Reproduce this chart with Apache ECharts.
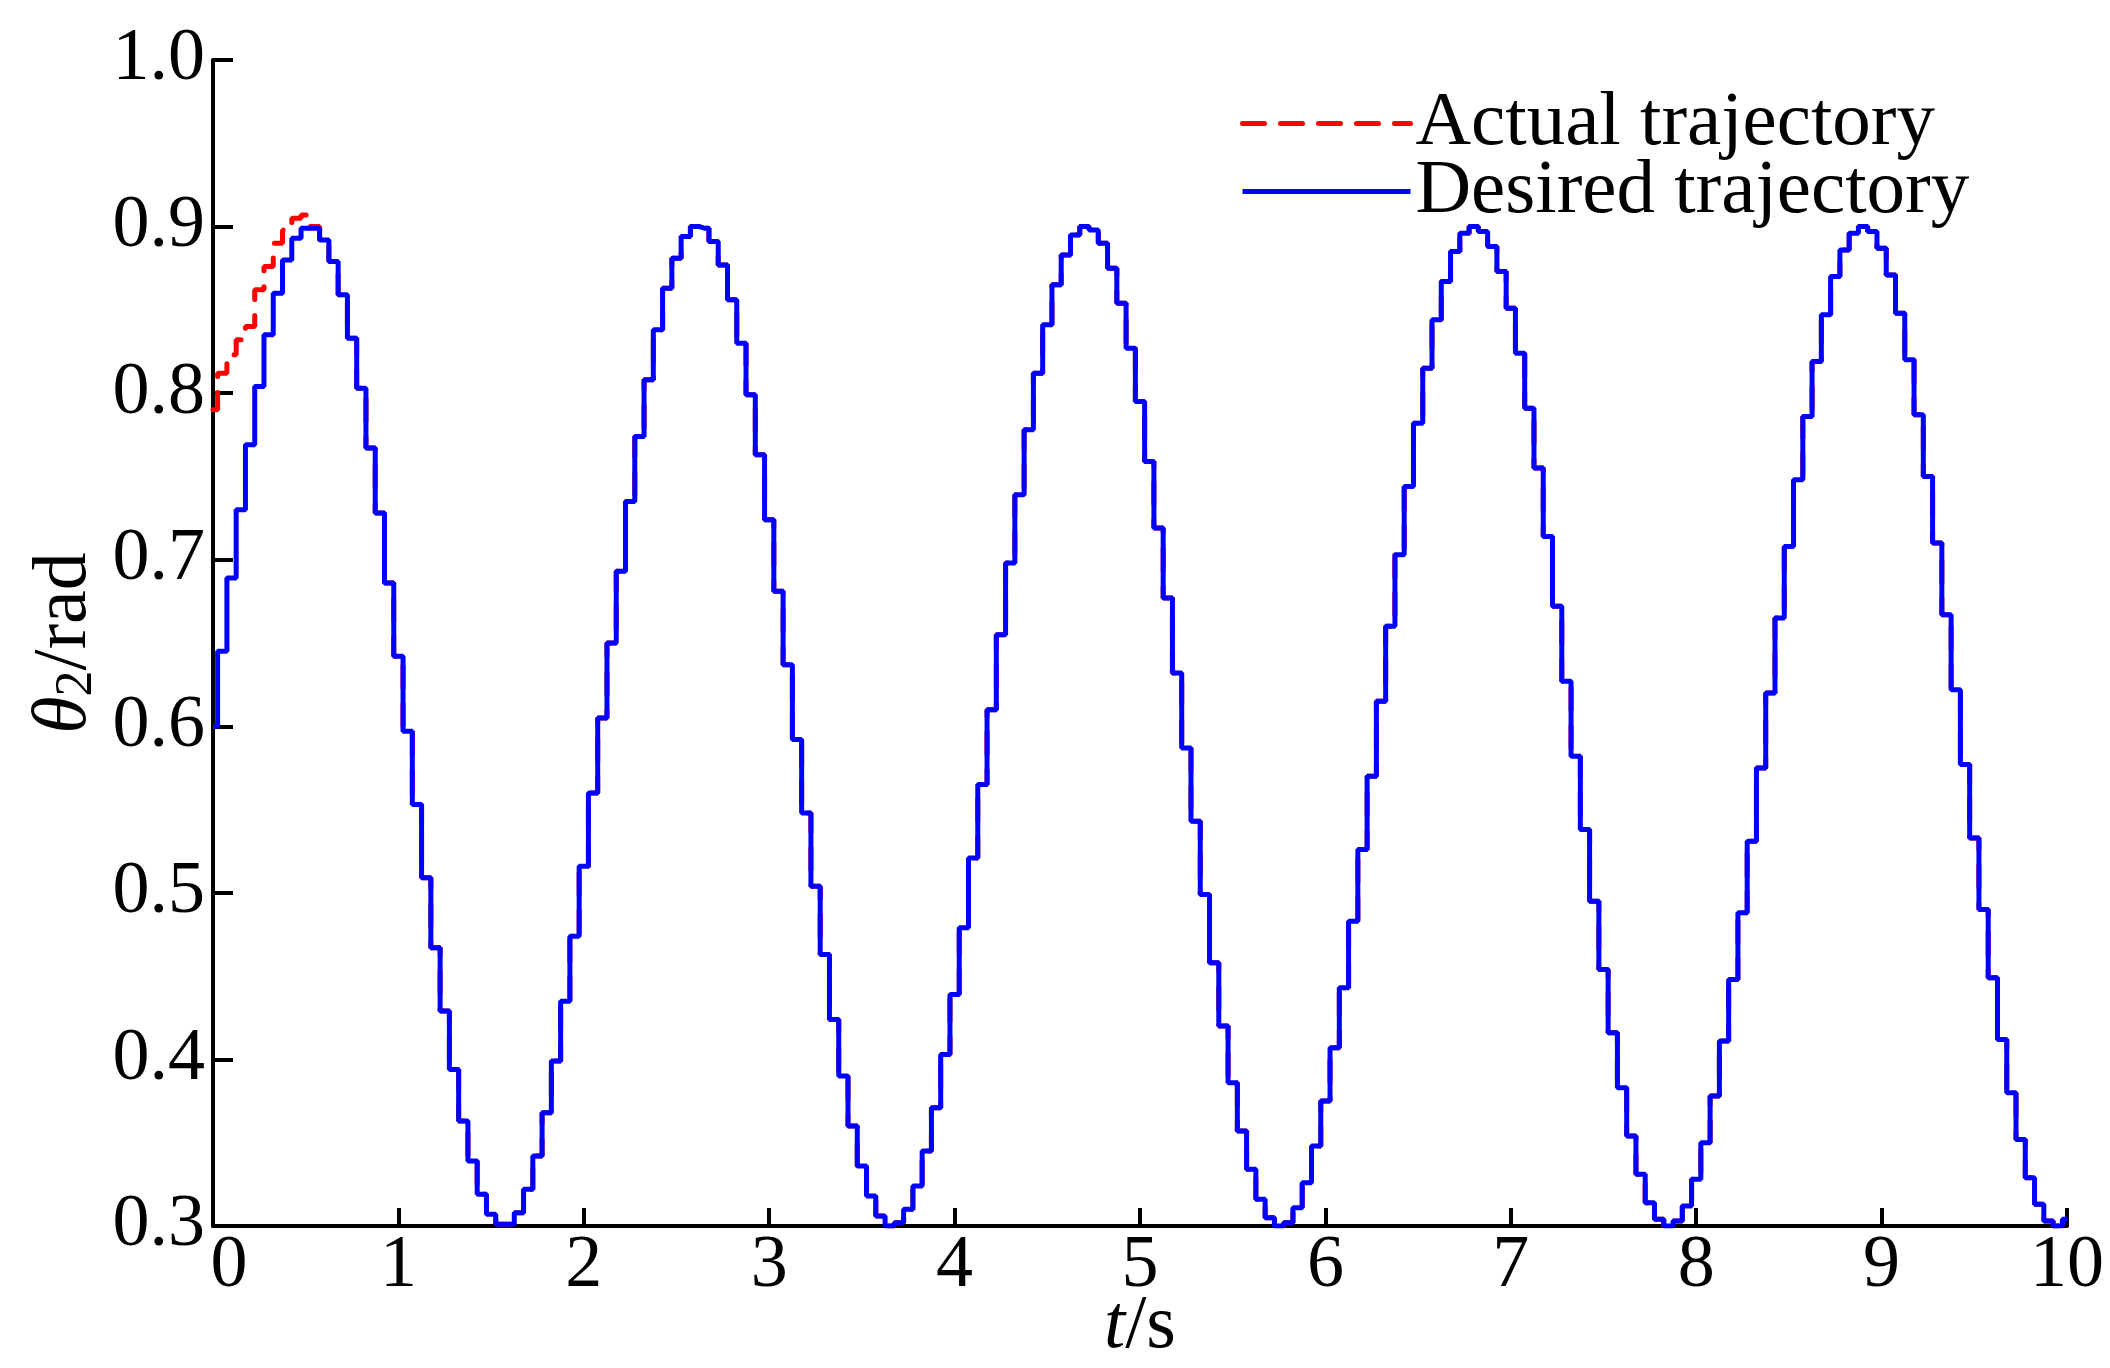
<!DOCTYPE html>
<html>
<head>
<meta charset="utf-8">
<script src="https://cdn.jsdelivr.net/npm/echarts@6/dist/echarts.min.js"></script>
<style>
html,body{margin:0;padding:0;background:#fff;overflow:hidden;}
#chart{width:2110px;height:1368px;}
</style>
</head>
<body>
<div id="chart"></div>
<script>
// sample times (s)
const times = [0,0.05,0.1,0.15,0.2,0.25,0.3,0.35,0.4,0.45,0.5,0.55,0.6,0.65,0.7,0.75,0.8,0.85,0.9,0.95,
1,1.05,1.1,1.15,1.2,1.25,1.3,1.35,1.4,1.45,1.5,1.55,1.6,1.65,1.7,1.75,1.8,1.85,1.9,1.95,
2,2.05,2.1,2.15,2.2,2.25,2.3,2.35,2.4,2.45,2.5,2.55,2.6,2.65,2.7,2.75,2.8,2.85,2.9,2.95,
3,3.05,3.1,3.15,3.2,3.25,3.3,3.35,3.4,3.45,3.5,3.55,3.6,3.65,3.7,3.75,3.8,3.85,3.9,3.95,
4,4.05,4.1,4.15,4.2,4.25,4.3,4.35,4.4,4.45,4.5,4.55,4.6,4.65,4.7,4.75,4.8,4.85,4.9,4.95,
5,5.05,5.1,5.15,5.2,5.25,5.3,5.35,5.4,5.45,5.5,5.55,5.6,5.65,5.7,5.75,5.8,5.85,5.9,5.95,
6,6.05,6.1,6.15,6.2,6.25,6.3,6.35,6.4,6.45,6.5,6.55,6.6,6.65,6.7,6.75,6.8,6.85,6.9,6.95,
7,7.05,7.1,7.15,7.2,7.25,7.3,7.35,7.4,7.45,7.5,7.55,7.6,7.65,7.7,7.75,7.8,7.85,7.9,7.95,
8,8.05,8.1,8.15,8.2,8.25,8.3,8.35,8.4,8.45,8.5,8.55,8.6,8.65,8.7,8.75,8.8,8.85,8.9,8.95,
9,9.05,9.1,9.15,9.2,9.25,9.3,9.35,9.4,9.45,9.5,9.55,9.6,9.65,9.7,9.75,9.8,9.85,9.9,9.95,10];

// desired trajectory theta2 (rad)
const desired = [
0.600,0.645,0.689,0.730,0.769,0.804,0.835,0.860,0.880,0.893,0.899,0.899,0.892,0.879,0.859,0.833,0.803,0.767,0.728,0.686,0.642,0.597,0.553,0.509,0.467,0.429,0.394,0.363,0.339,0.319,0.307,0.301,0.301,0.308,0.322,0.342,0.368,0.399,0.435,0.474,0.516,0.560,
0.605,0.650,0.693,0.735,0.774,0.808,0.838,0.863,0.881,0.894,0.900,0.899,0.891,0.877,0.856,0.830,0.799,0.763,0.724,0.681,0.637,0.592,0.548,0.504,0.463,0.424,0.390,0.360,0.336,0.318,0.306,0.300,0.302,0.310,0.324,0.345,0.371,0.403,0.439,0.479,0.521,0.565,
0.610,0.655,0.698,0.739,0.778,0.812,0.841,0.865,0.883,0.895,0.900,0.898,0.890,0.875,0.854,0.827,0.795,0.759,0.719,0.677,0.632,0.587,0.543,0.499,0.458,0.420,0.386,0.357,0.334,0.316,0.305,0.300,0.302,0.311,0.326,0.348,0.375,0.407,0.443,0.483,0.526,0.570,
0.615,0.660,0.703,0.744,0.782,0.815,0.844,0.867,0.885,0.896,0.900,0.897,0.888,0.873,0.851,0.824,0.791,0.755,0.714,0.672,0.627,0.582,0.538,0.495,0.454,0.416,0.383,0.354,0.331,0.314,0.304,0.300,0.303,0.312,0.328,0.350,0.378,0.411,0.448,0.488,0.531,0.575,
0.620,0.665,0.708,0.748,0.786,0.819,0.847,0.870,0.886,0.896,0.900,0.897,0.887,0.871,0.848,0.820,0.787,0.750,0.710,0.667,0.622,0.577,0.533,0.490,0.449,0.412,0.380,0.352,0.329,0.313,0.303,0.300,0.304];

// actual trajectory: differs at the start (t = 0 ... 0.6 s), then follows the desired one
const actualHead = [0.790,0.812,0.823,0.832,0.840,0.862,0.876,0.890,0.898,0.905,0.907,0.900,0.892];
const actual = actualHead.concat(desired.slice(actualHead.length));

const xTicks = [0,1,2,3,4,5,6,7,8,9,10];
const yTicks = [0.3,0.4,0.5,0.6,0.7,0.8,0.9,1.0];

const FONT = "'Liberation Serif','Times New Roman',serif";
const toPairs = arr => arr.map((v, i) => [times[i], v]);

const RED = '#ff0000', BLUE = '#0000ff';
const redLine = {color: RED, width: 5, type: [22, 16], cap: 'round'};
const blueLine = {color: BLUE, width: 5};

const chart = echarts.init(document.getElementById('chart'), null, {renderer: 'canvas', width: 2110, height: 1368});
chart.setOption({
  animation: false,
  backgroundColor: '#ffffff',
  grid: {left: 213, right: 43, top: 60, bottom: 142, containLabel: false, outerBoundsMode: 'none'},
  legend: {
    orient: 'vertical',
    left: 1235, top: 80,
    itemWidth: 168, itemHeight: 20, itemGap: -9,
    itemStyle: {opacity: 0},
    textStyle: {fontFamily: FONT, fontSize: 77, color: '#000'},
    data: [
      {name: 'Actual trajectory', lineStyle: redLine, itemStyle: {opacity: 0}},
      {name: 'Desired trajectory', lineStyle: blueLine, itemStyle: {opacity: 0}}
    ]
  },
  xAxis: {
    type: 'value',
    min: xTicks[0], max: xTicks[xTicks.length - 1], interval: 1,
    name: '{i|t}{r|/s}',
    nameLocation: 'middle', nameGap: 63, nameMoveOverlap: false,
    nameTextStyle: {
      fontFamily: FONT, fontSize: 76, color: '#000',
      rich: {
        i: {fontFamily: FONT, fontSize: 76, fontStyle: 'italic', color: '#000'},
        r: {fontFamily: FONT, fontSize: 76, color: '#000'}
      }
    },
    axisLine: {show: true, onZero: false, lineStyle: {color: '#000', width: 4}},
    axisTick: {show: true, inside: true, length: 18, lineStyle: {color: '#000', width: 4}},
    axisLabel: {
      show: true, margin: 4, showMinLabel: true, showMaxLabel: true,
      fontFamily: FONT, fontSize: 74, color: '#000',
      formatter: v => v === 0 ? '{z|0}' : String(v),
      rich: {z: {fontFamily: FONT, fontSize: 74, color: '#000', padding: [0, 0, 0, 32]}}
    },
    splitLine: {show: false}
  },
  yAxis: {
    type: 'value',
    min: yTicks[0], max: yTicks[yTicks.length - 1], interval: 0.1,
    name: '{i|θ}{s|2}{r|/rad}',
    nameLocation: 'middle', nameGap: 110, nameMoveOverlap: false,
    nameTextStyle: {
      fontFamily: FONT, fontSize: 76, color: '#000',
      rich: {
        i: {fontFamily: FONT, fontSize: 76, fontStyle: 'italic', color: '#000', lineHeight: 76},
        s: {fontFamily: FONT, fontSize: 52, color: '#000', lineHeight: 40, verticalAlign: 'bottom'},
        r: {fontFamily: FONT, fontSize: 76, color: '#000', lineHeight: 76}
      }
    },
    axisLine: {show: true, onZero: false, lineStyle: {color: '#000', width: 4}},
    axisTick: {show: true, inside: true, length: 20, lineStyle: {color: '#000', width: 4}},
    axisLabel: {
      show: true, margin: 8, showMinLabel: true, showMaxLabel: true,
      fontFamily: FONT, fontSize: 74, color: '#000',
      formatter: v => v.toFixed(1)
    },
    splitLine: {show: false}
  },
  series: [
    {
      name: 'Actual trajectory',
      type: 'line',
      step: 'middle',
      symbol: 'none',
      data: toPairs(actual),
      lineStyle: redLine,
      itemStyle: {color: RED},
      z: 2
    },
    {
      name: 'Desired trajectory',
      type: 'line',
      step: 'middle',
      symbol: 'none',
      data: toPairs(desired),
      lineStyle: blueLine,
      itemStyle: {color: BLUE},
      z: 3
    }
  ]
});
</script>
</body>
</html>
